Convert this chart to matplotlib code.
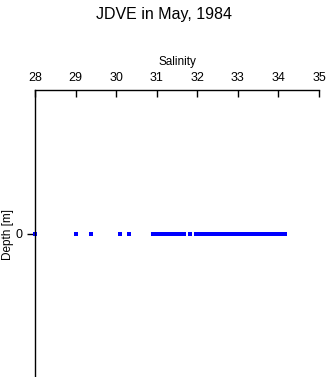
import numpy as np
import matplotlib
matplotlib.use('Agg')
import matplotlib.pyplot as plt

plt.rcParams['font.family'] = ['Liberation Sans', 'DejaVu Sans']

# salinity readings, all at the surface (depth 0)
salinity = [28.0, 29.0, 29.38, 30.09, 30.31,
            30.91, 30.94, 30.97, 31.0, 31.04, 31.07, 31.1, 31.13, 31.16,
            31.2, 31.23, 31.26, 31.3, 31.33, 31.37, 31.4, 31.44, 31.48,
            31.52, 31.55, 31.58, 31.6, 31.67, 31.82,
            31.97, 32.0, 32.04, 32.08, 32.12, 32.16, 32.2, 32.24, 32.28,
            32.32, 32.36, 32.4, 32.44, 32.48, 32.52, 32.56, 32.6, 32.64,
            32.68, 32.72, 32.76, 32.8, 32.84, 32.88, 32.92, 32.96, 33.0,
            33.04, 33.08, 33.12, 33.16, 33.2, 33.24, 33.27, 33.3,
            33.37, 33.41, 33.45, 33.49, 33.53, 33.57, 33.61, 33.65, 33.69,
            33.73, 33.77, 33.81, 33.85, 33.89, 33.93, 33.97, 34.01, 34.05,
            34.09, 34.13, 34.16]
depth = [0] * len(salinity)

x_ticks = [28, 29, 30, 31, 32, 33, 34, 35]

fig = plt.figure(figsize=(3.28, 3.77), dpi=100)
ax = fig.add_axes([35 / 328, 0.0, 284 / 328, 1 - 90 / 377])

ax.plot(salinity, depth, 's', color='#0000ff', markersize=2.3,
        markeredgewidth=0, clip_on=False, antialiased=False)

ax.set_xlim(28, 35)
ax.set_ylim(1, -1)
ax.set_xticks(x_ticks)
ax.set_yticks([0])

ax.xaxis.set_ticks_position('top')
ax.xaxis.set_label_position('top')
ax.tick_params(axis='x', direction='in', length=5, width=1, pad=4,
               labelsize=9)
ax.tick_params(axis='y', direction='out', length=6, width=1, pad=3,
               labelsize=9)

ax.spines['right'].set_visible(False)
ax.spines['bottom'].set_visible(False)
ax.spines['left'].set_linewidth(1)
ax.spines['top'].set_linewidth(1)

ax.set_xlabel('Salinity', fontsize=8.5, labelpad=5)

# y label placed by hand so it stays inside the figure
fig.text(8 / 328, 1 - 235 / 377, 'Depth [m]', rotation=90,
         ha='center', va='center', fontsize=8.5)

fig.text(0.5, 1 - 14 / 377, 'JDVE in May, 1984', ha='center', va='center',
         fontsize=11.5)

fig.savefig('out.png', dpi=100)
